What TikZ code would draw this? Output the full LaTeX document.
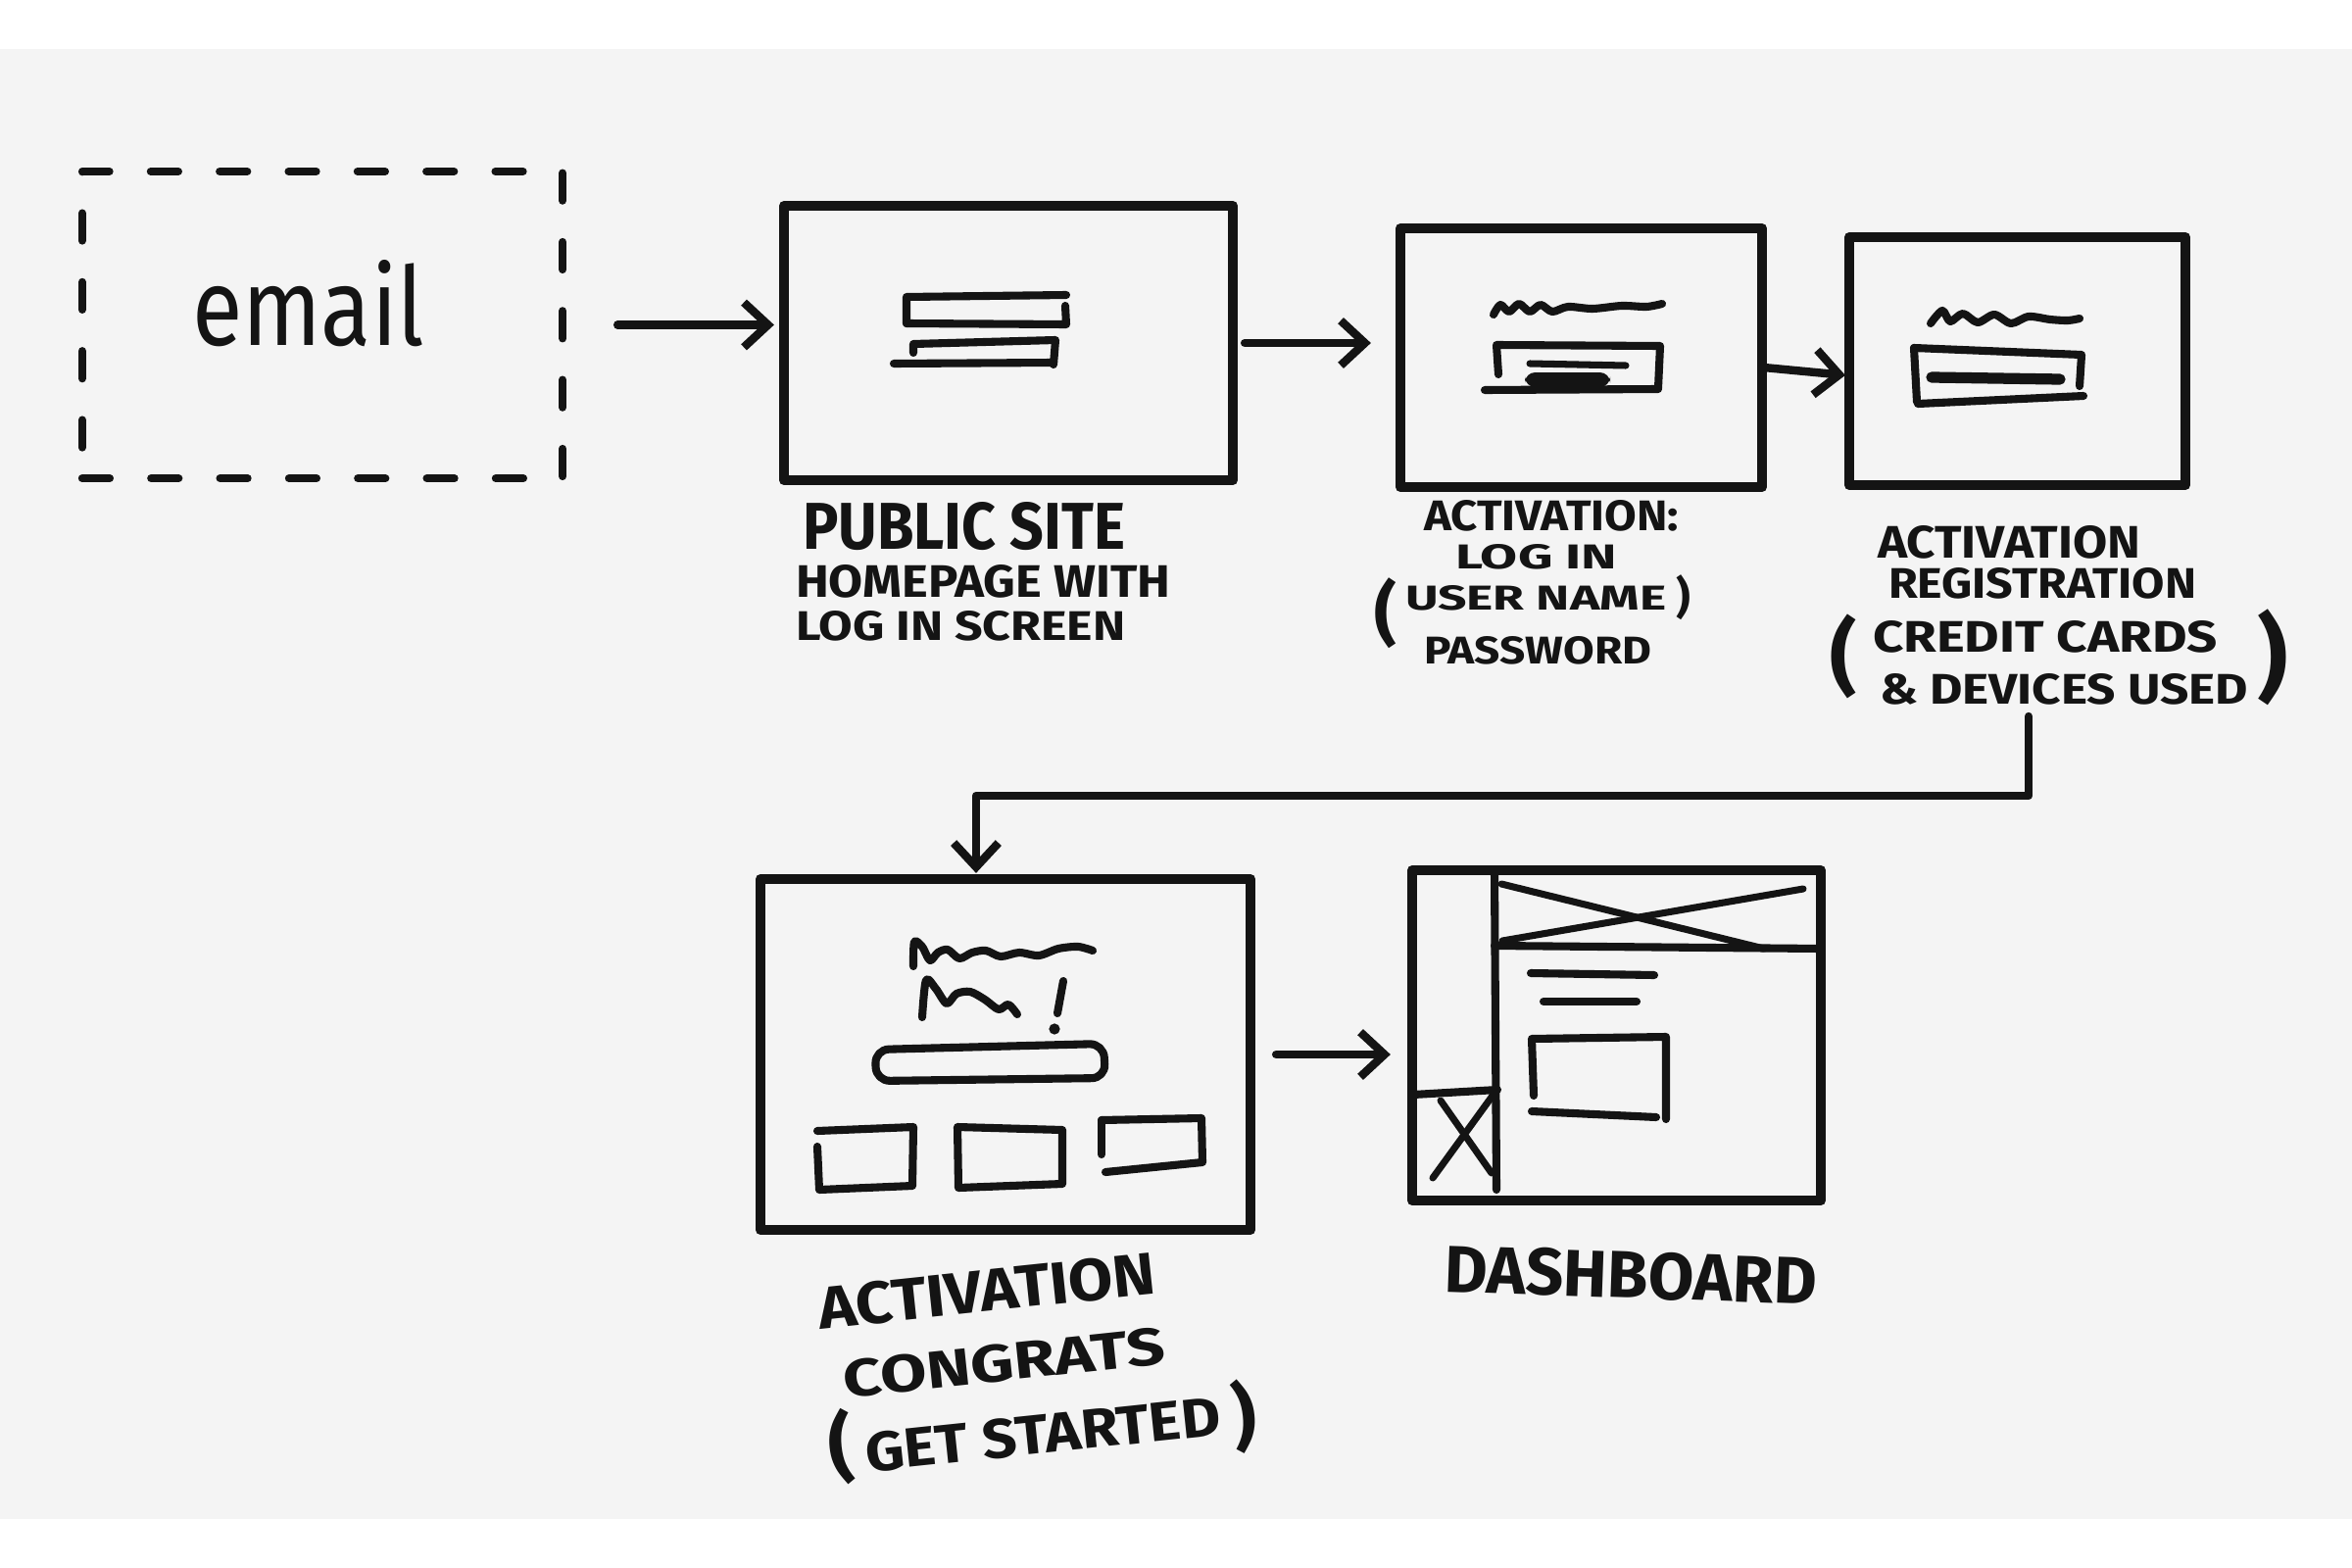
\documentclass[tikz,border=0pt]{standalone}
\usepackage{fontspec}
\usepackage{graphicx}
\newfontfamily\handfont{Fira Sans}
\usetikzlibrary{arrows.meta}
\definecolor{ink}{HTML}{141414}
\definecolor{paper}{HTML}{F4F4F4}
\newcommand\hw[3]{\resizebox{#1}{#2}{\handfont\bfseries #3}}
\newcommand\hwr[3]{\resizebox{#1}{#2}{\handfont #3}}
\newcommand\hwp[2]{\resizebox*{!}{#1}{\handfont\bfseries #2}}
\begin{document}
\begin{tikzpicture}[x=0.01cm,y=-0.01cm,line cap=round,line join=round,
  screen/.style={draw=ink,line width=2.8pt,inner sep=0pt,outer sep=0pt},
  dashbox/.style={draw=ink,line width=2.3pt,dash pattern=on 8pt off 12pt,inner sep=0pt,outer sep=0pt},
  widget/.style={draw=ink,line width=2.3pt},
  fineline/.style={draw=ink,line width=2pt},
  heavy/.style={draw=ink,line width=3.2pt},
  arrow/.style={draw=ink,line width=2.4pt,-{Straight Barb[length=7pt,width=13pt]}},
  lbl/.style={anchor=base west,inner sep=0pt,outer sep=0pt,text=ink},
  paren/.style={anchor=center,inner sep=0pt,outer sep=0pt,text=ink}]
\useasboundingbox (0,0) rectangle (2400,1600);
\fill[white] (0,0) rectangle (2400,1600);
\fill[paper] (0,50) rectangle (2400,1550);

% ---------- screens ----------
\node[dashbox,minimum width=49mm,minimum height=31.3mm] (email) at (329,331.5) {};
\node[screen,minimum width=45.8mm,minimum height=28mm] (pub) at (1029,350) {};
\node[screen,minimum width=36.9mm,minimum height=26.4mm] (login) at (1613.5,365) {};
\node[screen,minimum width=34.3mm,minimum height=25.3mm] (reg) at (2058.5,368.5) {};
\node[screen,minimum width=50mm,minimum height=35.8mm] (cong) at (1026,1076) {};
\node[screen,minimum width=41.7mm,minimum height=33.7mm] (dash) at (1649.5,1056.5) {};

% ---------- email text ----------
\node[lbl] (emailtxt) at (196,352) {\hwr{23.7mm}{8.7mm}{email}};

% ---------- public site interior ----------
\draw[widget] (925,330) -- (925,303) -- (1088,301);
\draw[widget] (925,330) -- (1088,331) -- (1087,312);
\draw[widget] (932,360) -- (932,351) -- (1077,347) -- (1075,372);
\draw[widget] (912,371) -- (1075,370);

% ---------- login interior ----------
\draw[widget] plot[smooth] coordinates {(1524,321) (1531,311) (1540,318) (1550,310) (1561,318) (1572,311) (1584,318) (1600,313) (1625,315) (1655,312) (1680,313) (1696,310)};
\draw[widget] (1529,382) -- (1527,352) -- (1694,353) -- (1692,396);
\draw[widget] (1515,398) -- (1692,397);
\draw[fineline] (1561,371) -- (1659,373);
\fill[ink, rounded corners=3pt] (1556,380) rectangle (1643,395);

% ---------- registration interior ----------
\draw[widget] plot[smooth] coordinates {(1970,330) (1982,317) (1990,328) (2003,320) (2018,329) (2035,321) (2052,330) (2070,323) (2092,326) (2110,327) (2122,325)};
\draw[widget] (1953,355) -- (2124,362) -- (2122,394);
\draw[widget] (1953,355) -- (1956,410);
\draw[widget] (1957,412) -- (2126,404);
\draw[heavy] (1971,385) -- (2102,387);

% ---------- congrats interior ----------
\draw[widget] plot[smooth] coordinates {(932,986) (933,961) (941,966) (949,980) (957,972) (967,969) (979,978) (992,972) (1006,970) (1021,976) (1040,972) (1060,975) (1080,968) (1100,966) (1115,970)};
\draw[widget] plot[smooth] coordinates {(941,1038) (945,1000) (955,1009) (966,1024) (976,1014) (990,1012) (1005,1020) (1019,1030) (1029,1025) (1038,1035)};
\draw[widget] (1085,1001) -- (1079,1034);
\fill[ink] (1076,1050) circle (1.6pt);
\draw[widget,rounded corners=4pt] (893,1071) -- (1126,1065) -- (1128,1100) -- (894,1103) -- cycle;
\draw[widget] (834,1154) -- (932,1150) -- (931,1210) -- (836,1214) -- (834,1170);
\draw[widget] (977,1150) -- (1084,1153) -- (1084,1208) -- (978,1212) -- cycle;
\draw[widget] (1124,1143) -- (1226,1141) -- (1227,1186) -- (1128,1196);
\draw[widget] (1124,1143) -- (1124,1178);

% ---------- dashboard interior ----------
\draw[widget] (1525,890) -- (1527,1214);
\draw[widget] (1525,965) -- (1858,968);
\draw[fineline] (1532,902) -- (1800,968);
\draw[fineline] (1533,960) -- (1840,907);
\draw[widget] (1562,993) -- (1688,995);
\draw[widget] (1575,1022) -- (1670,1022);
\draw[widget] (1565,1118) -- (1563,1060) -- (1700,1058) -- (1700,1142);
\draw[widget] (1563,1134) -- (1690,1140);
\draw[widget] (1442,1117) -- (1528,1112);
\draw[fineline] (1470,1123) -- (1522,1197);
\draw[fineline] (1523,1118) -- (1462,1202);

% ---------- labels ----------
\node[lbl] (publ1) at (819,560) {\hw{32.9mm}{4.8mm}{PUBLIC SITE}};
\node[lbl] (publ2) at (812,609) {\hw{38.2mm}{3.3mm}{HOMEPAGE WITH}};
\node[lbl] (publ3) at (812,653) {\hw{33.6mm}{3.0mm}{LOG IN SCREEN}};

\node[lbl] (logl1) at (1453,541) {\hw{26mm}{3.1mm}{ACTIVATION:}};
\node[lbl] (logl2) at (1485,580) {\hw{16.5mm}{2.5mm}{LOG IN}};
\node[paren] (logp1) at (1414,626) {\hwp{7.2mm}{(}};
\node[lbl] (logl3) at (1434,622) {\hw{26.6mm}{2.5mm}{USER NAME}};
\node[paren] (logp2) at (1718,610) {\hwp{4.6mm}{)}};
\node[lbl] (logl4) at (1453,677) {\hw{23.2mm}{2.8mm}{PASSWORD}};

\node[lbl] (regl1) at (1916,569) {\hw{26.8mm}{3.3mm}{ACTIVATION}};
\node[lbl] (regl2) at (1927,610) {\hw{31.4mm}{3.1mm}{REGISTRATION}};
\node[paren] (regp1) at (1881,670) {\hwp{8.6mm}{(}};
\node[lbl] (regl3) at (1911,665) {\hw{35.2mm}{3.2mm}{CREDIT CARDS}};
\node[lbl] (regl4) at (1918,718) {\hw{37.6mm}{3.1mm}{\& DEVICES USED}};
\node[paren] (regp2) at (2319,671) {\hwp{9.8mm}{)}};

\node[lbl,rotate=6] (congl1) at (837,1356) {\hw{34.6mm}{4.3mm}{ACTIVATION}};
\node[lbl,rotate=6] (congl2) at (862,1426) {\hw{33mm}{3.8mm}{CONGRATS}};
\node[paren,rotate=6] (congp1) at (858,1476) {\hwp{7.8mm}{(}};
\node[lbl,rotate=6] (congl3) at (885,1502) {\hw{36.4mm}{4.0mm}{GET STARTED}};
\node[paren,rotate=6] (congp2) at (1270,1445) {\hwp{7.6mm}{)}};

\node[lbl,rotate=-2] (dashl) at (1473,1318) {\hw{38mm}{4.8mm}{DASHBOARD}};

% ---------- connectors ----------
\coordinate (regout) at (2070,731);
\draw[arrow,shorten <=5.6mm,shorten >=1mm] (email.east) -- (email.east -| pub.west);
\draw[arrow,shorten <=1.2mm,shorten >=3mm] (pub.east) -- (pub.east -| login.west);
\draw[arrow,shorten >=0.4mm] ([yshift=-2.8pt]login.east) -- ([yshift=-4.2pt]reg.west);
\draw[arrow,shorten >=0.6mm] (regout) -- ++(0,81) -| ([xshift=-3mm]cong.north);
\draw[arrow,shorten <=2.6mm,shorten >=2.2mm] (cong.east) -- (cong.east -| dash.west);
\end{tikzpicture}
\end{document}
